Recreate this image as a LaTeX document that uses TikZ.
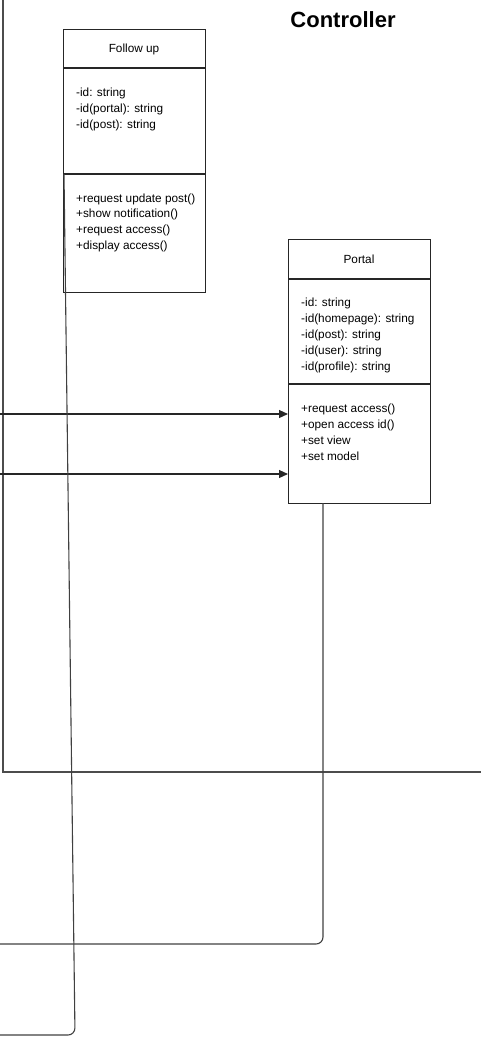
\documentclass[tikz,border=0pt]{standalone}
\usepackage{fontspec}
\setmainfont{Liberation Sans}
\usetikzlibrary{arrows.meta}
\tikzset{
  classbox/.style={draw=black!85, line width=1.1pt, fill=white, inner sep=0pt, anchor=north west},
  divider/.style={draw=black!85, line width=1.1pt},
  txt/.style={font=\fontsize{11.8}{13}\selectfont, inner sep=0pt, anchor=base west, text=black},
  ttl/.style={font=\fontsize{11.8}{13}\selectfont, inner sep=0pt, text=black},
  conn/.style={draw=black!75, line width=1.1pt},
  arr/.style={conn, draw=black!85, -{Triangle[length=9pt,width=8pt]}},
  frame/.style={draw=black!70, line width=1.1pt}
}
\begin{document}
\begin{tikzpicture}[x=1pt,y=-1pt]
\useasboundingbox (0,0) rectangle (481,1039);
% Controller package frame
\coordinate (ftop) at (3,0);
\coordinate (fcorner) at (3,772);
\coordinate (fright) at (481,772);
\draw[frame] (ftop) -- (fcorner) -- (fright);
\node[font=\bfseries\fontsize{22}{26}\selectfont, inner sep=0pt, anchor=base] (ctitle) at (343,27) {Controller};
% Follow up class
\node[classbox, minimum width=142pt, minimum height=263pt] (fu) at (63,29) {};
\draw[divider] (63,68) -- (205,68);
\draw[divider] (63,174) -- (205,174);
\node[ttl] (futitle) at (134,49) {Follow up};
\foreach [count=\i] \t in {-id: string, -id(portal): string, -id(post): string}
  \node[txt] (fa\i) at (76,{96+16*(\i-1)}) {\t};
\foreach [count=\i] \t in {+request update post(), +show notification(), +request access(), +display access()}
  \node[txt] (fm\i) at (76,{202+15.7*(\i-1)}) {\t};
% Portal class
\node[classbox, minimum width=142pt, minimum height=264pt] (po) at (288,239) {};
\draw[divider] (288,279) -- (430,279);
\draw[divider] (288,384) -- (430,384);
\node[ttl] (potitle) at (359,259) {Portal};
\foreach [count=\i] \t in {-id: string, -id(homepage): string, -id(post): string, -id(user): string, -id(profile): string}
  \node[txt] (pa\i) at (301,{306+16*(\i-1)}) {\t};
\foreach [count=\i] \t in {+request access(), +open access id(), +set view, +set model}
  \node[txt] (pm\i) at (301,{412+16*(\i-1)}) {\t};
% incoming arrows
\coordinate (in1) at (0,414);
\coordinate (in2) at (0,474);
\draw[arr] (in1) -- (in1 -| po.west);
\draw[arr] (in2) -- (in2 -| po.west);
% connectors leaving the picture
\coordinate (fustart) at (64,174);
\coordinate (fuend) at (0,1035);
\draw[conn, rounded corners=7pt] (fustart) -- (75,1035) -- (fuend);
\coordinate (postart) at (323,503);
\coordinate (poend) at (0,944);
\draw[conn, rounded corners=7pt] (postart) -- (323,944) -- (poend);
\end{tikzpicture}
\end{document}
